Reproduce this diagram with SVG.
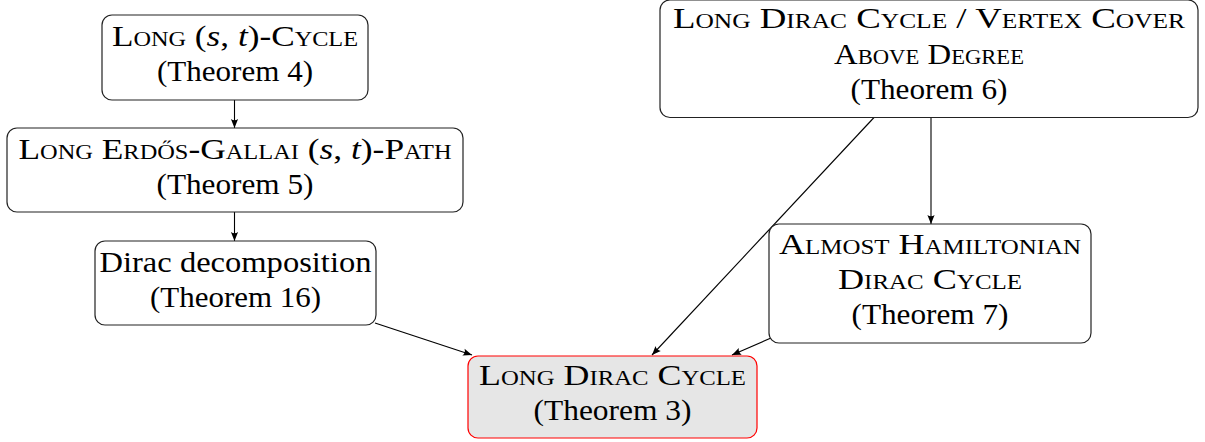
<svg xmlns="http://www.w3.org/2000/svg" width="1205" height="442" viewBox="0 0 1205 442">
<defs>
<marker id="arr" viewBox="-10 -5 12 10" refX="0" refY="0" markerWidth="12" markerHeight="10" markerUnits="userSpaceOnUse" orient="auto">
<path d="M0,0 L-9,-3.6 Q-6.5,0 -9,3.6 Z" fill="#000"/>
</marker>
</defs>
<style>
.box{fill:#fff;stroke:#222;stroke-width:1.2}
.hl{fill:#e6e6e6;stroke:#ff0000;stroke-width:1.2}
text{font-family:"Liberation Serif","DejaVu Serif",serif;font-size:29px;fill:#000;text-anchor:middle}
.sc{font-variant:small-caps}
.it{font-style:italic}
.edge{stroke:#000;stroke-width:1.1;fill:none;marker-end:url(#arr)}
</style>
<g id="connectors">
<line class="edge" x1="234.5" y1="100" x2="234.5" y2="128"/>
<line class="edge" x1="234.5" y1="212" x2="234.5" y2="241"/>
<line class="edge" x1="375" y1="323" x2="472" y2="355"/>
<line class="edge" x1="874" y1="117.5" x2="652" y2="355"/>
<line class="edge" x1="931" y1="117.5" x2="931" y2="224"/>
<line class="edge" x1="771" y1="338" x2="732" y2="355"/>
</g>
<g id="n-longst">
<rect class="box" x="102" y="15" width="266" height="85" rx="10"/>
<text x="235" y="46" textLength="246" lengthAdjust="spacingAndGlyphs"><tspan class="sc">Long </tspan>(<tspan class="it">s</tspan>, <tspan class="it">t</tspan>)-<tspan class="sc">Cycle</tspan></text>
<text x="235" y="81" textLength="156" lengthAdjust="spacingAndGlyphs">(Theorem 4)</text>
</g>
<g id="n-erdos">
<rect class="box" x="7" y="128" width="456" height="84" rx="10"/>
<text x="235" y="159" textLength="433" lengthAdjust="spacingAndGlyphs"><tspan class="sc">Long Erdős-Gallai </tspan>(<tspan class="it">s</tspan>, <tspan class="it">t</tspan>)-<tspan class="sc">Path</tspan></text>
<text x="235" y="194" textLength="157" lengthAdjust="spacingAndGlyphs">(Theorem 5)</text>
</g>
<g id="n-dirac-decomp">
<rect class="box" x="95" y="241" width="281" height="84" rx="10"/>
<text x="235.5" y="272" textLength="272" lengthAdjust="spacingAndGlyphs">Dirac decomposition</text>
<text x="235.5" y="307" textLength="171" lengthAdjust="spacingAndGlyphs">(Theorem 16)</text>
</g>
<g id="n-ldc">
<rect class="hl" x="468" y="356" width="289" height="82" rx="10"/>
<text x="612.5" y="385" class="sc" textLength="267" lengthAdjust="spacingAndGlyphs">Long Dirac Cycle</text>
<text x="612.5" y="420" textLength="158" lengthAdjust="spacingAndGlyphs">(Theorem 3)</text>
</g>
<g id="n-ldc-vc">
<rect class="box" x="660" y="0" width="538" height="117.5" rx="10"/>
<text x="929" y="28" class="sc" textLength="512" lengthAdjust="spacingAndGlyphs">Long Dirac Cycle / Vertex Cover</text>
<text x="929" y="64" class="sc" textLength="190" lengthAdjust="spacingAndGlyphs">Above Degree</text>
<text x="929" y="99" textLength="157" lengthAdjust="spacingAndGlyphs">(Theorem 6)</text>
</g>
<g id="n-almost">
<rect class="box" x="769" y="224" width="322" height="119" rx="10"/>
<text x="930" y="254" class="sc" textLength="302" lengthAdjust="spacingAndGlyphs">Almost Hamiltonian</text>
<text x="930" y="289" class="sc" textLength="184" lengthAdjust="spacingAndGlyphs">Dirac Cycle</text>
<text x="930" y="324" textLength="157" lengthAdjust="spacingAndGlyphs">(Theorem 7)</text>
</g>
</svg>
